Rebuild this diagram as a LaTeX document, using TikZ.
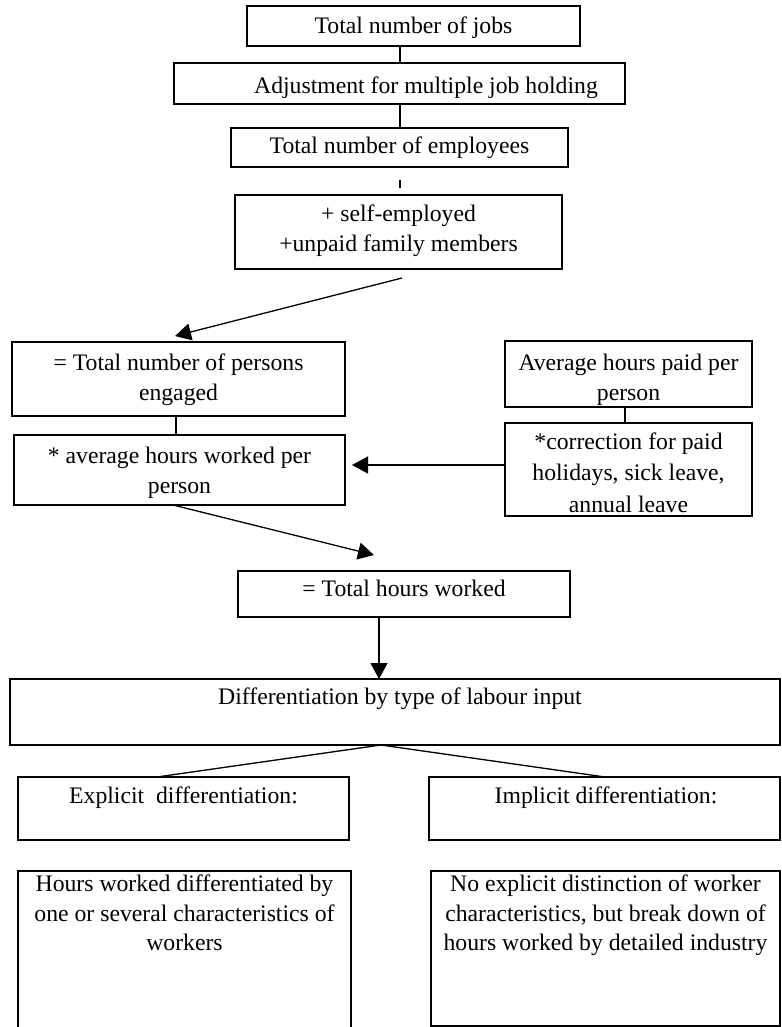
\documentclass[tikz,border=0pt]{standalone}
\usepackage{fontspec}
\setmainfont{Liberation Serif}
\usetikzlibrary{arrows.meta}
\begin{document}
\begin{tikzpicture}[x=1pt,y=-1pt,
  box/.style={draw, line width=1.3pt, inner sep=0pt, outer sep=0pt, anchor=north west},
  txt/.style={align=center, inner sep=0pt, anchor=north, font=\fontsize{23.7}{30}\selectfont},
  con/.style={line width=1.3pt},
  arr/.style={line width=1.3pt, -{Triangle[length=16pt,width=17pt]}}]
\useasboundingbox (0,0) rectangle (781,1027);
% boxes
\node[box, minimum width=333pt, minimum height=40pt] (b1) at (247,6) {};
\node[box, minimum width=451pt, minimum height=41pt] (b2) at (174,63) {};
\node[box, minimum width=337pt, minimum height=39pt] (b3) at (231,128) {};
\node[box, minimum width=327pt, minimum height=74pt] (b4) at (235,195) {};
\node[box, minimum width=333pt, minimum height=74pt] (b5) at (12,342) {};
\node[box, minimum width=331pt, minimum height=70pt] (b6) at (14,435) {};
\node[box, minimum width=247pt, minimum height=66pt] (bA) at (505,341) {};
\node[box, minimum width=247pt, minimum height=93pt] (bB) at (505,423) {};
\node[box, minimum width=332pt, minimum height=46pt] (b7) at (238,571) {};
\node[box, minimum width=770pt, minimum height=66pt] (b8) at (10,679) {};
\node[box, minimum width=331pt, minimum height=63pt] (b9) at (18,777) {};
\node[box, minimum width=351pt, minimum height=63pt] (b10) at (429,777) {};
\node[box, minimum width=333pt, minimum height=160pt] (b11) at (18,871) {};
\node[box, minimum width=349pt, minimum height=155pt] (b12) at (431,871) {};
% texts
\node[txt] (t1) at (413.5,12) {\strut Total number of jobs};
\node[txt] (t2) at (426,72) {\strut Adjustment for multiple job holding};
\node[txt] (t3) at (399.5,132) {\strut Total number of employees};
\node[txt] (t4) at (398.5,200) {\strut + self-employed\\\strut +unpaid family members};
\node[txt] (t5) at (178.5,349) {\strut = Total number of persons\\\strut engaged};
\node[txt] (t6) at (179.5,442) {\strut * average hours worked per\\\strut person};
\node[txt] (tA) at (628.5,349) {\strut Average hours paid per\\\strut person};
\node[txt, font=\fontsize{23.7}{31.5}\selectfont] (tB) at (628.5,427) {\strut *correction for paid\\\strut holidays, sick leave,\\\strut annual leave};
\node[txt] (t7) at (404,575) {\strut = Total hours worked};
\node[txt] (t8) at (400,683) {\strut Differentiation by type of labour input};
\node[txt] (t9) at (183.5,782) {\strut Explicit\ \ differentiation:};
\node[txt] (t10) at (606,782) {\strut Implicit differentiation:};
\node[txt, font=\fontsize{23.7}{29.5}\selectfont] (t11) at (184.5,871) {\strut Hours worked differentiated by\\\strut one or several characteristics of\\\strut workers};
\node[txt, font=\fontsize{23.7}{29.5}\selectfont] (t12) at (605.5,871) {\strut No explicit distinction of worker\\\strut characteristics, but break down of\\\strut hours worked by detailed industry};
% helper coordinates
\coordinate (vx) at (400,0);
\coordinate (lx) at (176,0);
\coordinate (rx) at (625,0);
\coordinate (hy) at (0,465);
\coordinate (a1s) at (402,278);
\coordinate (a1e) at (175,336);
\coordinate (a2s) at (173,505);
\coordinate (a2e) at (374,555);
\coordinate (dx) at (379,0);
\coordinate (fork) at (381,745);
\coordinate (f1) at (157,777);
\coordinate (f2) at (605,777);
% connectors
\draw[con] (b1.south -| vx) -- (b2.north -| vx);
\draw[con] (b2.south -| vx) -- (b3.north -| vx);
\draw[con, shorten <=13pt, shorten >=7pt] (b3.south -| vx) -- (b4.north -| vx);
\draw[arr] (a1s) -- (a1e);
\draw[con] (b5.south -| lx) -- (b6.north -| lx);
\draw[con] (bA.south -| rx) -- (bB.north -| rx);
\draw[arr, shorten >=7pt] (bB.west |- hy) -- (b6.east |- hy);
\draw[arr] (a2s) -- (a2e);
\draw[arr] (b7.south -| dx) -- (b8.north -| dx);
\draw[con] (f1) -- (fork) -- (f2);
\end{tikzpicture}
\end{document}
